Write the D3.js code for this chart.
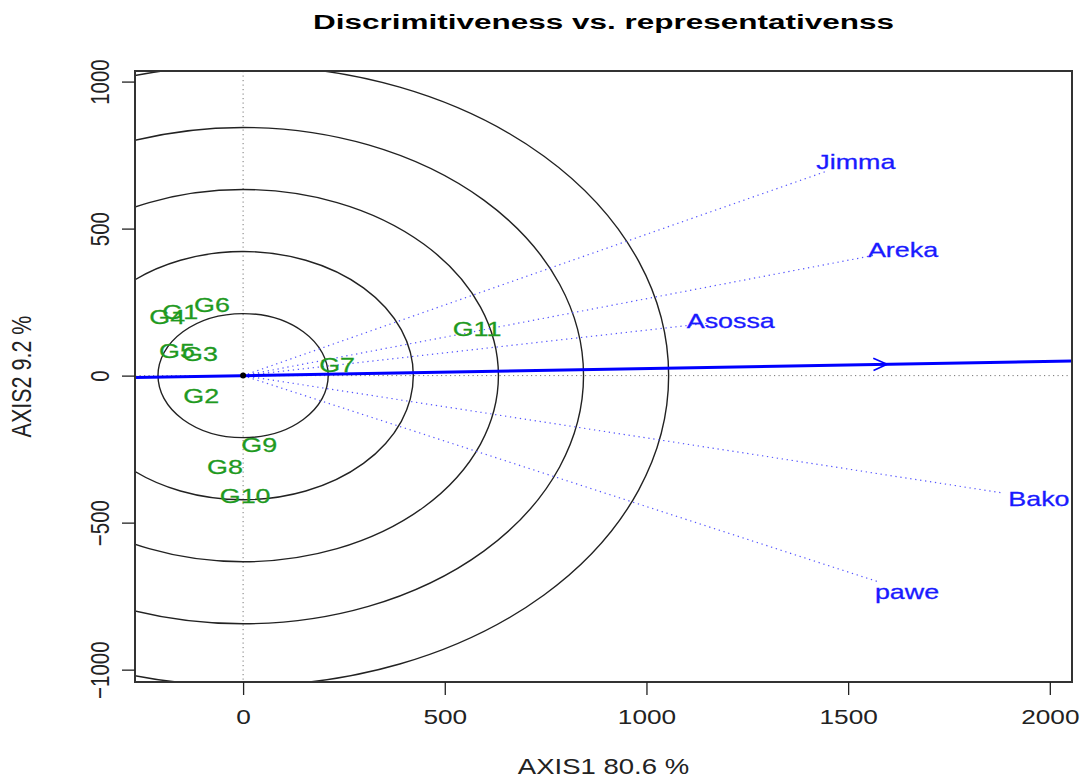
<!DOCTYPE html>
<html><head><meta charset="utf-8">
<script src="https://cdn.jsdelivr.net/npm/d3@7"></script>
<style>body{margin:0;background:#fff}svg{display:block}</style>
</head><body>
<svg id="chart" width="1083" height="777"></svg>
<script>
// ---- data ----
const genotypes = ["G1","G2","G3","G4","G5","G6","G7","G8","G9","G10","G11"];
const genoX = [-156,-104,-107,-188,-164,-77,233,-45,40,5,580];
const genoY = [217,-68,75,200,85,241,37,-309,-234,-407,160];
const environments = ["Jimma","Areka","Asossa","Bako","pawe"];
const envX = [1519,1636,1209,1973,1646];
const envY = [730,428,187,-418,-733];
const circleRadii = [211,422,633,844,1055];
const xTicks = [0,500,1000,1500,2000];
const yTicks = [-1000,-500,0,500,1000];
const titleText = "Discrimitiveness vs. representativenss";
const xLabel = "AXIS1 80.6 %";
const yLabel = "AXIS2 9.2 %";

// ---- layout ----
const SX = 1.28; // horizontal text stretch of the original image
const FONT = "'Liberation Sans', Arial, Helvetica, sans-serif";
const svg = d3.select("#chart");
const L = 135, R = 1072, T = 71, B = 682;
const x = d3.scaleLinear().domain([-268, 2055]).range([L, R]);
const y = d3.scaleLinear().domain([-1042, 1036]).range([B, T]);

svg.append("defs").append("clipPath").attr("id","clip")
  .append("rect").attr("x",L).attr("y",T).attr("width",R-L).attr("height",B-T);

const plot = svg.append("g").attr("clip-path","url(#clip)");

// reference dotted axes
plot.append("line").attr("x1",x(0)).attr("x2",x(0)).attr("y1",T).attr("y2",B)
  .attr("stroke","#777").attr("stroke-width",1).attr("stroke-dasharray","1.2,3.3");
plot.append("line").attr("x1",L).attr("x2",R).attr("y1",y(0)).attr("y2",y(0))
  .attr("stroke","#777").attr("stroke-width",1).attr("stroke-dasharray","1.2,3.3");

// concentric circles (data units)
plot.selectAll("ellipse.c").data(circleRadii).join("ellipse")
  .attr("cx",x(0)).attr("cy",y(0))
  .attr("rx",d=>x(d)-x(0)).attr("ry",d=>y(0)-y(d))
  .attr("fill","none").attr("stroke","#222").attr("stroke-width",1.4);

// environment vectors
const envData = environments.map((n,i)=>({n, x:envX[i], y:envY[i]}));
const lineFrac = 0.955;
plot.selectAll("line.env").data(envData).join("line")
  .attr("x1",x(0)).attr("y1",y(0))
  .attr("x2",d=>x(d.x*lineFrac)).attr("y2",d=>y(d.y*lineFrac))
  .attr("stroke","#5555ff").attr("stroke-width",1.2).attr("stroke-dasharray","1.3,3.7");

// average environment axis
const mx = d3.mean(envX), my = d3.mean(envY);
const slope = my/mx;
plot.append("line")
  .attr("x1",x(-268)).attr("y1",y(-268*slope))
  .attr("x2",x(2055)).attr("y2",y(2055*slope))
  .attr("stroke","#0000ff").attr("stroke-width",3);
// arrow head at average environment
{
  const px = x(mx), py = y(my);
  const ang = Math.atan2(py - y(0), px - x(0));
  const len = 15, spread = 0.42;
  const p1 = [px - len*Math.cos(ang - spread), py - len*Math.sin(ang - spread)];
  const p2 = [px - len*Math.cos(ang + spread), py - len*Math.sin(ang + spread)];
  plot.append("path")
    .attr("d",`M${p1[0]},${p1[1]}L${px},${py}L${p2[0]},${p2[1]}`)
    .attr("fill","none").attr("stroke","#0000ff").attr("stroke-width",1.6);
}

// origin point
plot.append("circle").attr("cx",x(0)).attr("cy",y(0)).attr("r",3).attr("fill","#000");

// genotype labels
const genoData = genotypes.map((n,i)=>({n, x:genoX[i], y:genoY[i]}));
svg.selectAll("text.geno").data(genoData).join("text")
  .attr("class","geno")
  .attr("transform",d=>`translate(${x(d.x)},${y(d.y)}) scale(${SX},1)`)
  .attr("text-anchor","middle").attr("dy","0.36em")
  .attr("font-family",FONT).attr("font-size",21).attr("fill","#1f9a1f")
  .attr("stroke","#1f9a1f").attr("stroke-width",0.3)
  .text(d=>d.n);

// environment labels
svg.selectAll("text.env").data(envData).join("text")
  .attr("class","env")
  .attr("transform",d=>`translate(${x(d.x)},${y(d.y)}) scale(${SX},1)`)
  .attr("text-anchor","middle").attr("dy","0.36em")
  .attr("font-family",FONT).attr("font-size",21).attr("fill","#1a1aff")
  .attr("stroke","#1a1aff").attr("stroke-width",0.3)
  .text(d=>d.n);

// frame
svg.append("rect").attr("x",L).attr("y",T).attr("width",R-L).attr("height",B-T)
  .attr("fill","none").attr("stroke","#333").attr("stroke-width",2);

// x axis
const gx = svg.append("g").attr("transform",`translate(0,${B})`)
  .call(d3.axisBottom(x).tickValues(xTicks).tickSize(13).tickPadding(14).tickFormat(d3.format("d")));
gx.select(".domain").remove();
gx.selectAll("line").attr("stroke","#222").attr("stroke-width",1.3);
gx.selectAll("text").attr("font-family",FONT).attr("font-size",20.5).attr("fill","#222")
  .attr("transform",`scale(${SX},1)`);

// y axis
const gy = svg.append("g").attr("transform",`translate(${L},0)`)
  .call(d3.axisLeft(y).tickValues(yTicks).tickSize(13).tickFormat(d3.format("d")));
gy.select(".domain").remove();
gy.selectAll("line").attr("stroke","#222").attr("stroke-width",1.3);
gy.selectAll("text").attr("x",null).attr("dy",null)
  .attr("text-anchor","middle").attr("dominant-baseline","central")
  .attr("font-family",FONT).attr("font-size",20.5).attr("fill","#222")
  .attr("transform",`translate(-35,0) scale(${SX},1) rotate(-90)`);

// titles
svg.append("text")
  .attr("transform",`translate(${(L+R)/2},29) scale(1.5,1)`)
  .attr("text-anchor","middle").attr("font-family",FONT).attr("font-weight","bold")
  .attr("font-size",21).attr("fill","#000").text(titleText);
svg.append("text")
  .attr("transform",`translate(${(L+R)/2},774) scale(${SX},1)`)
  .attr("text-anchor","middle").attr("font-family",FONT)
  .attr("font-size",21.5).attr("fill","#222").text(xLabel);
svg.append("text")
  .attr("transform",`translate(22,${(T+B)/2}) scale(${SX},1) rotate(-90)`)
  .attr("text-anchor","middle").attr("dominant-baseline","central").attr("font-family",FONT)
  .attr("font-size",21.5).attr("fill","#222").text(yLabel);
</script>
</body></html>
